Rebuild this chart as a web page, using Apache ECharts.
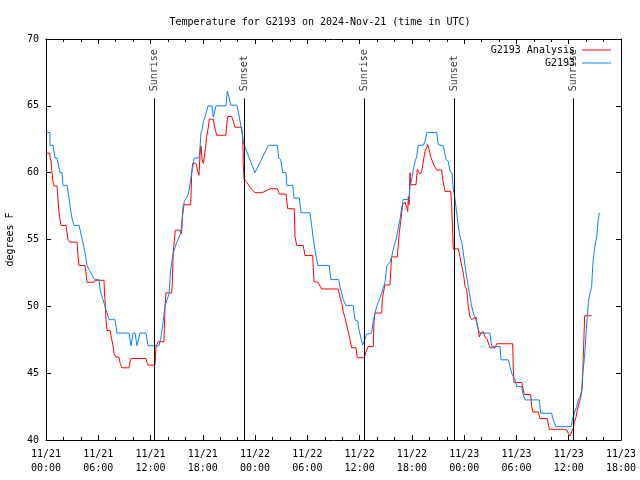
<!DOCTYPE html>
<html><head><meta charset="utf-8">
<script src="https://cdn.jsdelivr.net/npm/echarts@6/dist/echarts.min.js"></script>
<style>html,body{margin:0;padding:0;background:#fff}#c{width:640px;height:480px}</style>
</head><body><div id="c"></div>
<script>
// hours since 2024-11-21 00:00 UTC
const analysisHours=[0,0.46,0.46,0.57,0.69,0.80,0.92,1.26,1.38,1.49,
1.72,2.30,2.41,2.53,2.75,3.56,3.67,3.79,4.48,4.59,
4.71,5.51,5.62,6.66,6.71,6.77,6.89,7.00,7.35,7.46,
7.69,7.80,8.03,8.38,8.49,8.72,9.53,9.64,9.76,11.48,
11.59,11.71,12.51,12.63,12.86,13.54,13.66,13.77,14.43,14.50,
14.61,14.73,14.84,15.38,15.50,15.61,15.69,15.76,16.61,16.72,
16.84,17.18,17.30,17.41,17.56,17.68,17.79,17.91,18.06,18.17,
18.29,18.44,18.63,18.74,19.20,19.32,19.48,19.59,20.66,20.74,
20.86,21.31,21.50,21.69,22.46,22.58,22.65,22.73,22.76,23.04,
23.42,23.99,24.76,25.14,25.71,26.55,26.78,27.55,27.74,28.50,
28.58,28.78,29.53,29.73,30.61,30.76,31.22,31.64,33.55,33.74,
33.93,34.12,34.32,34.51,34.70,34.89,35.09,35.58,35.73,36.53,
36.73,36.99,37.57,37.65,37.76,38.53,38.60,38.72,38.91,39.48,
39.60,39.68,40.32,40.44,40.55,40.71,40.83,40.94,41.21,41.40,
41.52,41.59,41.67,41.78,41.86,42.47,42.62,42.73,42.93,43.12,
43.31,43.50,43.70,43.81,43.96,44.15,44.38,44.65,44.84,45.42,
45.53,45.80,46.45,46.57,46.68,46.75,47.33,47.52,47.72,47.90,
48.10,48.29,48.47,48.67,48.86,49.05,49.36,49.44,49.62,49.74,
49.90,50.20,50.39,50.65,50.96,51.54,51.73,53.57,53.64,53.72,
54.60,54.79,54.90,55.63,55.75,55.86,56.51,56.70,57.54,57.77,
59.38,59.77,59.95,60.14,60.34,60.52,60.64,60.83,60.98,61.37,
61.52,61.60,61.67,61.75,61.83,62.64];
const analysisTemps=[61.45,61.45,61.1,60.9,60.0,59.35,59.0,59.0,58.0,57.0,
56.05,56.05,55.5,55.0,54.8,54.8,53.8,53.05,53.05,52.5,
51.8,51.8,51.95,51.95,51.0,50.5,49.0,48.2,48.2,47.8,
47.05,46.5,46.2,46.2,45.8,45.4,45.4,45.85,46.1,46.1,
45.8,45.6,45.6,47.0,47.35,47.35,50.0,51.0,51.0,51.8,
54.1,54.9,55.7,55.7,55.4,55.9,57.1,57.6,57.6,59.9,
60.7,60.7,60.5,60.1,59.8,61.4,62.0,61.0,60.7,60.7,
61.75,62.7,63.4,64.0,64.0,63.5,63.1,62.8,62.8,63.6,
64.2,64.2,63.85,63.4,63.4,62.65,60.6,59.65,59.5,59.3,
58.9,58.5,58.5,58.6,58.8,58.8,58.4,58.4,57.3,57.3,
55.2,54.55,54.55,53.8,53.8,51.85,51.8,51.3,51.3,50.7,
50.3,49.6,49.15,48.6,48.1,47.5,46.9,46.9,46.15,46.15,
46.6,47.0,47.0,48.85,49.5,49.5,50.5,51.0,51.6,51.6,
53.0,53.7,53.7,54.6,55.5,56.3,57.0,57.6,57.8,57.4,
57.1,58.2,57.6,60.0,59.1,59.1,60.25,60.1,59.9,60.1,
60.0,61.6,61.9,62.1,61.75,61.2,60.8,60.4,60.2,60.2,
59.5,58.6,58.6,57.5,55.5,54.3,54.3,53.7,53.0,52.5,
51.5,51.25,50.0,49.2,49.0,49.1,49.2,48.8,48.25,47.7,
48.0,48.1,47.7,47.5,46.9,46.9,47.2,47.2,45.25,44.3,
44.3,43.75,43.4,43.4,42.5,42.1,42.1,41.6,41.6,40.8,
40.8,40.75,40.5,40.3,40.3,40.9,41.3,41.7,42.25,43.2,
43.75,44.7,46.2,47.7,49.3,49.3];
const obsHours=[0,0.46,0.46,0.80,1.03,1.26,1.61,1.84,1.95,2.41,
2.64,2.75,2.87,2.98,3.21,3.79,4.13,4.48,4.71,4.94,
5.17,5.39,5.62,6.08,6.20,6.31,6.54,6.77,7.00,7.23,
7.92,8.15,9.53,9.76,9.99,10.22,10.45,10.79,11.48,11.71,
12.97,13.20,13.43,13.66,13.89,14.12,14.31,14.46,14.61,14.81,
15.00,15.30,15.50,15.64,15.76,15.87,16.15,16.33,16.53,16.72,
17.02,17.56,17.68,17.79,17.94,18.06,18.25,18.44,18.63,19.05,
19.20,19.32,19.51,20.66,20.81,21.00,21.20,21.89,22.00,22.12,
22.27,22.38,22.53,22.65,22.84,23.99,25.52,26.55,26.71,26.94,
27.17,27.55,27.63,28.32,28.47,29.08,29.27,30.30,30.50,30.69,
30.87,31.07,31.22,32.52,32.69,33.60,33.74,33.93,34.12,34.43,
35.27,35.46,35.77,35.93,36.12,36.35,36.53,36.81,36.96,37.38,
37.57,37.76,37.96,38.14,38.34,38.53,38.72,38.91,39.11,39.48,
39.68,39.86,40.25,40.44,40.63,40.83,41.01,41.67,41.78,41.98,
42.16,42.35,42.55,42.73,43.31,43.50,43.70,44.84,45.03,45.60,
45.80,45.91,46.18,46.37,46.60,46.75,46.95,47.14,47.33,47.52,
47.72,47.90,48.10,48.29,48.47,48.67,48.86,49.05,49.24,49.44,
49.62,49.81,50.96,51.16,52.11,52.23,53.07,53.26,53.45,53.83,
54.03,54.60,54.72,54.98,56.62,56.78,58.04,58.23,58.54,60.26,
60.41,60.64,60.91,61.10,61.29,61.49,61.60,61.75,61.87,62.02,
62.13,62.25,62.44,62.64,62.75,62.82,63.01,63.21,63.39,63.51];
const obsTemps=[63.0,63.0,62.05,62.05,61.1,61.1,60.0,60.0,59.05,59.05,
58.1,57.55,57.0,56.6,56.05,56.05,55.1,54.0,53.05,52.75,
52.5,52.2,52.0,52.0,51.25,51.0,50.5,50.0,49.5,49.0,
49.0,48.0,48.0,47.05,48.0,48.0,47.05,48.0,48.0,47.05,
47.05,47.7,48.8,50.0,50.5,50.9,52.75,53.35,54.0,54.4,
54.8,55.2,55.6,56.65,57.1,57.85,58.15,58.4,59.1,60.0,
61.1,61.1,61.9,63.0,63.25,63.8,64.15,64.6,65.0,65.0,
64.15,64.15,65.0,65.0,66.1,65.65,65.05,65.05,64.75,64.4,
63.85,63.4,62.9,62.3,61.9,60.0,62.05,62.05,61.1,61.0,
60.0,60.0,59.05,59.05,58.1,58.1,57.0,57.0,56.0,55.0,
54.25,53.5,53.05,53.05,52.0,52.0,51.5,51.0,50.5,50.05,
50.05,49.0,48.9,48.25,47.7,47.1,47.1,47.9,48.0,48.0,
49.0,49.5,50.0,50.3,50.65,51.0,51.4,51.8,53.0,53.3,
53.7,54.25,55.2,55.9,56.5,57.4,58.0,58.0,59.0,59.5,
60.25,60.8,61.2,62.05,62.05,62.35,63.0,63.0,62.1,62.0,
61.4,61.0,60.85,60.1,60.0,58.75,58.0,57.0,55.95,55.2,
54.8,54.0,53.0,52.2,51.5,50.7,50.0,49.5,49.2,48.8,
48.25,48.0,48.0,47.0,47.0,46.0,46.0,45.5,45.0,44.5,
44.0,44.0,43.5,43.0,43.0,42.0,42.0,41.5,41.0,41.0,
41.5,42.0,42.5,43.0,43.2,43.75,45.0,45.8,46.75,48.25,
49.2,50.3,51.0,51.5,53.0,53.5,54.5,55.2,56.5,57.0];
const sunHours=[12.43,22.77,36.53,46.87,60.52];
const sunNames=['Sunrise','Sunset','Sunrise','Sunset','Sunrise'];
const xTickLabels=['11/21\n00:00','11/21\n06:00','11/21\n12:00','11/21\n18:00',
'11/22\n00:00','11/22\n06:00','11/22\n12:00','11/22\n18:00',
'11/23\n00:00','11/23\n06:00','11/23\n12:00','11/23\n18:00'];
const seriesNames=['G2193 Analysis','G2193'];
const titleText='Temperature for G2193 on 2024-Nov-21 (time in UTC)';

const FONT='DejaVu Sans Mono';
const yMin=40,yMax=70,xMin=0,xMax=66;
const markTop=yMin+0.852*(yMax-yMin);
const zip=(a,b)=>a.map((v,i)=>[v,b[i]]);

const chart=echarts.init(document.getElementById('c'),null,{renderer:'canvas'});
const tickBase={
  type:'value',min:xMin,max:xMax,interval:6,
  axisLine:{show:true,onZero:false,lineStyle:{color:'#000',width:1}},
  axisTick:{show:true,inside:true,length:5,lineStyle:{color:'#000'}},
  minorTick:{show:true,splitNumber:3,length:3,lineStyle:{color:'#000'}},
  splitLine:{show:false},minorSplitLine:{show:false}
};
chart.setOption({
  animation:false,
  backgroundColor:'#fff',
  title:{text:titleText,left:'center',top:12,textStyle:{fontFamily:FONT,fontSize:10,fontWeight:'normal',color:'#000'}},
  legend:{data:seriesNames.map(n=>({name:n,icon:'rect'})),orient:'vertical',right:29,top:45,align:'right',selectedMode:false,
    itemWidth:29,itemHeight:1,itemGap:3,padding:0,
    textStyle:{fontFamily:FONT,fontSize:10,color:'#000',padding:[0,2,0,0]}},
  grid:{left:46,right:19,top:39,bottom:40,containLabel:false,outerBoundsMode:'none'},
  xAxis:[
    Object.assign({},tickBase,{position:'bottom',
      axisLabel:{show:true,color:'#000',fontFamily:FONT,fontSize:10,lineHeight:14,margin:7,
        formatter:v=>xTickLabels[Math.round(v/6)]}}),
    Object.assign({},tickBase,{position:'top',axisLabel:{show:false}})
  ],
  yAxis:[
    {type:'value',min:yMin,max:yMax,interval:5,position:'left',
     name:'degrees F',nameLocation:'middle',nameGap:31,nameRotate:90,
     nameTextStyle:{fontFamily:FONT,fontSize:10,color:'#000'},
     axisLine:{show:true,onZero:false,lineStyle:{color:'#000'}},
     axisTick:{show:true,inside:true,length:5,lineStyle:{color:'#000'}},
     axisLabel:{color:'#000',fontFamily:FONT,fontSize:10,margin:7},
     splitLine:{show:false}},
    {type:'value',min:yMin,max:yMax,interval:5,position:'right',
     axisLine:{show:true,onZero:false,lineStyle:{color:'#000'}},
     axisTick:{show:true,inside:true,length:5,lineStyle:{color:'#000'}},
     axisLabel:{show:false},splitLine:{show:false}}
  ],
  series:[
    {name:'sun',type:'scatter',symbolSize:0,silent:true,z:1,
     data:sunHours.map((h,i)=>({value:[h,markTop],name:sunNames[i]})),
     label:{show:true,formatter:p=>p.name,position:'top',distance:7,rotate:90,
       align:'left',verticalAlign:'middle',fontFamily:FONT,fontSize:10,color:'#000'},
     markLine:{silent:true,symbol:['none','none'],animation:false,
       label:{show:false},lineStyle:{color:'#000',width:1,type:'solid'},
       data:sunHours.map(h=>[{coord:[h,yMin]},{coord:[h,markTop]}])}
    },
    {name:seriesNames[0],type:'line',symbol:'none',showSymbol:false,z:2,
     lineStyle:{color:'#ff0000',width:1},itemStyle:{color:'#ff0000'},
     data:zip(analysisHours,analysisTemps)},
    {name:seriesNames[1],type:'line',symbol:'none',showSymbol:false,z:3,
     lineStyle:{color:'#0a84f5',width:1},itemStyle:{color:'#0a84f5'},
     data:zip(obsHours,obsTemps)}
  ]
});
</script></body></html>
